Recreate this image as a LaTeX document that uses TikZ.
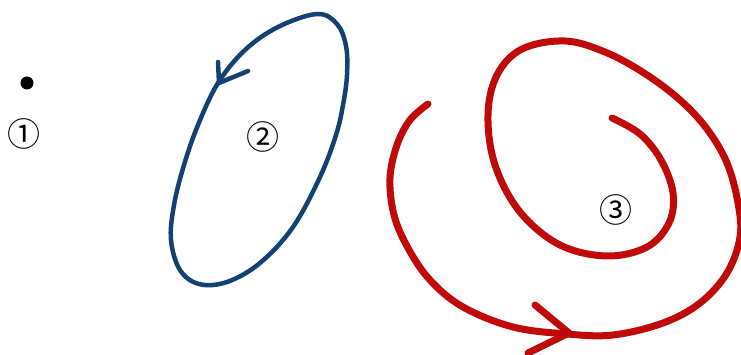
\documentclass[tikz,border=0pt]{standalone}
\usepackage{fontspec}
\newfontfamily\cjk{Noto Sans CJK JP}
\definecolor{bluecurve}{RGB}{20,65,115}
\definecolor{redcurve}{RGB}{192,10,10}
\tikzset{
  numlabel/.style={font=\cjk\fontsize{33}{33}\selectfont, inner sep=0pt},
  bluestroke/.style={draw=bluecurve, line width=4.5pt, line cap=round, line join=round},
  redstroke/.style={draw=redcurve, line width=7pt, line cap=round, line join=round},
}
\begin{document}
\begin{tikzpicture}[x=1pt,y=-1pt]
\useasboundingbox (0,0) rectangle (741,355);
\clip (0,0) rectangle (741,355);
% point 1
\fill[black] (27,83) circle (6.5);
\node[numlabel] (n1) at (24,134) {①};
% blue loop
\draw[bluestroke] plot[smooth cycle, tension=0.6] coordinates {
 (317,14) (337,24) (346,46) (347,75) (343,105) (336,135) (320,177) (293,227)
 (260,263) (227,282) (199,284) (180,270) (171,240) (174,205) (184,165)
 (198,125) (218,83) (245,50) (278,27)};
\coordinate (btip) at (219,83);
\coordinate (bw1) at (218,62);
\coordinate (bw2) at (248,71);
\draw[bluestroke] (bw1) -- (btip) -- (bw2);
\node[numlabel] (n2) at (263,137) {②};
% red spiral
\draw[redstroke] plot[smooth, tension=0.6] coordinates {
 (428,104) (410,120) (397,145) (390,178) (394,215) (408,248) (430,280)
 (463,307) (513,327) (567,334) (613,335) (663,323) (700,303) (727,273)
 (740,237) (738,203) (727,163) (707,129) (680,100) (644,73) (605,52) (565,41)
 (522,49) (497,75) (488,115) (495,165) (520,212) (560,245) (607,256)
 (647,247) (669,223) (673,193) (661,160) (640,134) (612,118)};
\coordinate (rtip) at (569,333);
\coordinate (rw1) at (535,305);
\coordinate (rw2) at (528,353);
\draw[redstroke] (rw1) -- (rtip) -- (rw2);
\node[numlabel] (n3) at (616,210) {③};
\end{tikzpicture}
\end{document}
